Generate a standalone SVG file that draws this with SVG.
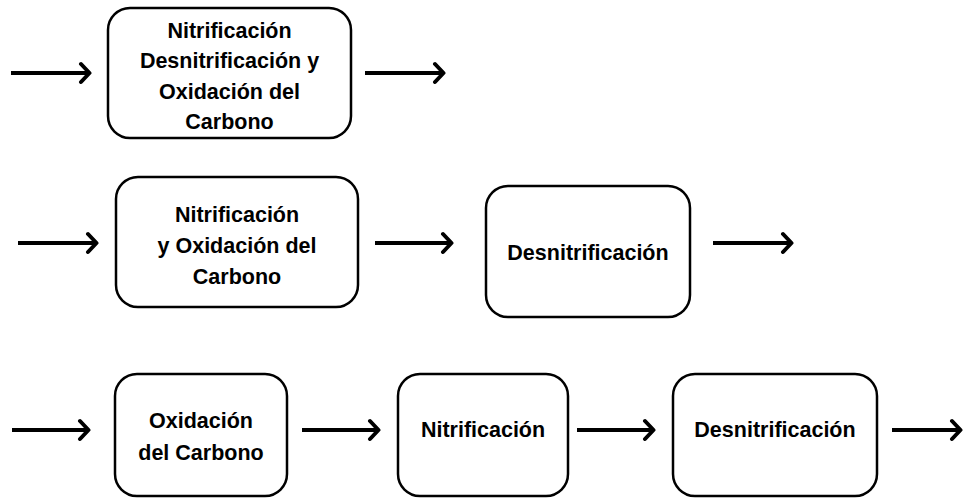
<svg xmlns="http://www.w3.org/2000/svg" width="963" height="502" viewBox="0 0 963 502">
<style>
.box{fill:#fff;stroke:#000;stroke-width:2.5}
.lbl{font-family:"Liberation Sans",Arial,sans-serif;font-weight:bold;font-size:21.5px;fill:#000;text-anchor:middle}
.con{stroke:#000;stroke-width:4;fill:none}
</style>
<defs>
<marker id="arr" viewBox="-12 -12 14 24" markerWidth="14" markerHeight="24" refX="0" refY="0" orient="auto" markerUnits="userSpaceOnUse">
<path d="M-9,-9 L-0.5,0 L-9,9" fill="none" stroke="#000" stroke-width="4" stroke-linecap="round" stroke-linejoin="round"/>
</marker>
</defs>
<rect width="963" height="502" fill="#fff"/>
<g id="connectors">
<line class="con" x1="11" y1="73" x2="90" y2="73" marker-end="url(#arr)"/>
<line class="con" x1="365" y1="73" x2="444" y2="73" marker-end="url(#arr)"/>
<line class="con" x1="18" y1="243" x2="97" y2="243" marker-end="url(#arr)"/>
<line class="con" x1="375" y1="243" x2="452" y2="243" marker-end="url(#arr)"/>
<line class="con" x1="713" y1="243" x2="792" y2="243" marker-end="url(#arr)"/>
<line class="con" x1="12" y1="430" x2="89" y2="430" marker-end="url(#arr)"/>
<line class="con" x1="302" y1="430" x2="379" y2="430" marker-end="url(#arr)"/>
<line class="con" x1="577" y1="430" x2="654" y2="430" marker-end="url(#arr)"/>
<line class="con" x1="892" y1="430" x2="961" y2="430" marker-end="url(#arr)"/>
</g>
<g id="n1">
<rect class="box" x="108" y="8" width="243" height="130" rx="22"/>
<text class="lbl" x="229.5" y="38">Nitrificación</text>
<text class="lbl" x="229.5" y="68">Desnitrificación y</text>
<text class="lbl" x="229.5" y="99">Oxidación del</text>
<text class="lbl" x="229.5" y="129">Carbono</text>
</g>
<g id="n2">
<rect class="box" x="116" y="177" width="242" height="130" rx="22"/>
<text class="lbl" x="237" y="222">Nitrificación</text>
<text class="lbl" x="237" y="253">y Oxidación del</text>
<text class="lbl" x="237" y="284">Carbono</text>
</g>
<g id="n3">
<rect class="box" x="486" y="186" width="204" height="131" rx="22"/>
<text class="lbl" x="588" y="260">Desnitrificación</text>
</g>
<g id="n4">
<rect class="box" x="115" y="374" width="172" height="122" rx="22"/>
<text class="lbl" x="201" y="428">Oxidación</text>
<text class="lbl" x="201" y="460">del Carbono</text>
</g>
<g id="n5">
<rect class="box" x="398" y="374" width="170" height="122" rx="22"/>
<text class="lbl" x="483" y="437">Nitrificación</text>
</g>
<g id="n6">
<rect class="box" x="673" y="374" width="204" height="122" rx="22"/>
<text class="lbl" x="775" y="437">Desnitrificación</text>
</g>
</svg>
